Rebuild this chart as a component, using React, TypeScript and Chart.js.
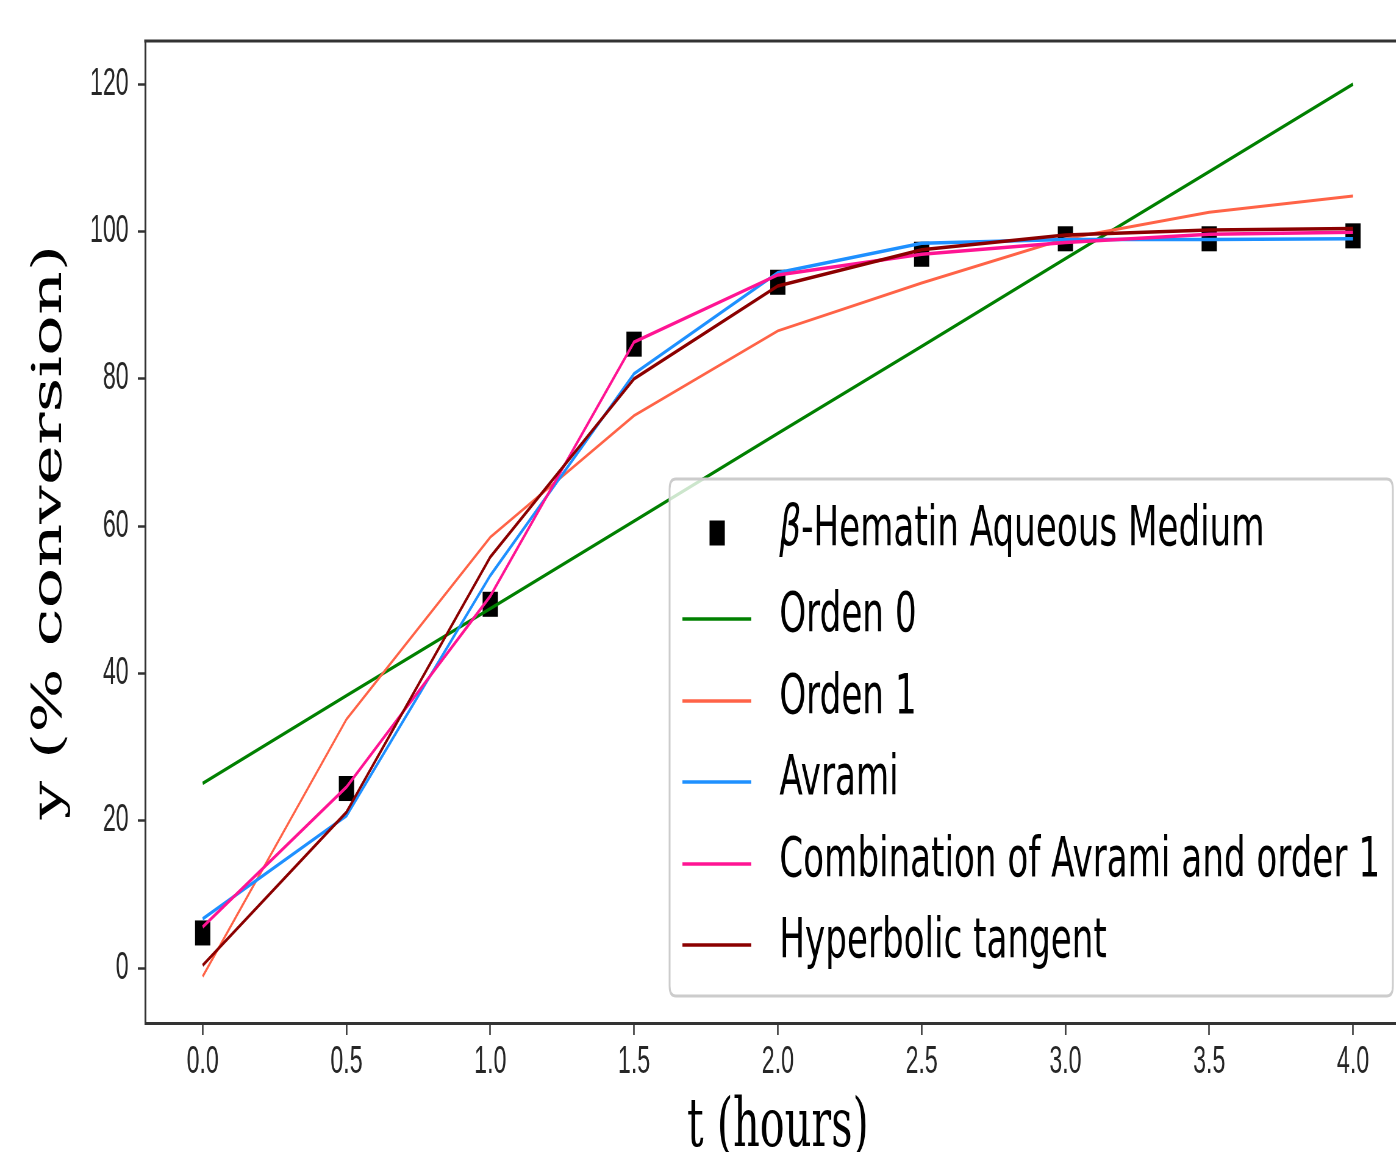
import React, { useEffect, useRef } from 'react';
import { Chart, registerables } from 'chart.js';

Chart.register(...registerables);

// ---------------- data ----------------
const tHours = [0, 0.5, 1.0, 1.5, 2.0, 2.5, 3.0, 3.5, 4.0];
const experimental = [4.8, 24.4, 49.4, 84.7, 93.1, 96.9, 99.0, 99.0, 99.4];
const orden0 = [25.1, 37.0, 48.8, 60.7, 72.6, 84.4, 96.3, 108.1, 120.0];
const orden1 = [-1.1, 33.8, 58.5, 75.0, 86.5, 93.0, 99.0, 102.6, 104.8];
const avrami = [6.7, 20.7, 53.3, 80.7, 94.4, 98.4, 98.9, 98.9, 99.0];
const combination = [5.6, 24.6, 50.5, 85.0, 94.1, 96.9, 98.5, 99.6, 99.9];
const hyperbolic = [0.4, 21.2, 55.8, 80.0, 92.6, 97.5, 99.5, 100.2, 100.4];

const xTickValues = [0, 0.5, 1.0, 1.5, 2.0, 2.5, 3.0, 3.5, 4.0];
const yTickValues = [0, 20, 40, 60, 80, 100, 120];

const seriesLabels = [
  'β-Hematin Aqueous Medium',
  'Orden 0',
  'Orden 1',
  'Avrami',
  'Combination of Avrami and order 1',
  'Hyperbolic tangent',
];
const seriesColors = ['#000000', '#008000', '#ff6347', '#1e90ff', '#ff1493', '#8b0000'];

// ---------------- layout (style only) ----------------
const SX = 0.61; // horizontal squash of the original figure
const CANVAS_W = 2340;
const CANVAS_H = 1152;

const framePlugin = {
  id: 'frame',
  afterDatasetsDraw(chart: any) {
    const { ctx, chartArea } = chart;
    ctx.save();
    ctx.strokeStyle = '#333333';
    ctx.lineWidth = 3;
    ctx.beginPath();
    ctx.moveTo(chartArea.left - 1.5, chartArea.top);
    ctx.lineTo(chartArea.right, chartArea.top);
    ctx.lineTo(chartArea.right, chartArea.bottom);
    ctx.stroke();
    ctx.restore();
  },
};

const legendPlugin = {
  id: 'boxLegend',
  afterDraw(chart: any) {
    const { ctx, chartArea } = chart;
    const right = chartArea.right - 29;
    const bottom = chartArea.bottom - 27;
    const w = 1186;
    const h = 517;
    const left = right - w;
    const top = bottom - h;
    const r = 10;
    ctx.save();
    ctx.beginPath();
    ctx.moveTo(left + r, top);
    ctx.lineTo(right - r, top);
    ctx.quadraticCurveTo(right, top, right, top + r);
    ctx.lineTo(right, bottom - r);
    ctx.quadraticCurveTo(right, bottom, right - r, bottom);
    ctx.lineTo(left + r, bottom);
    ctx.quadraticCurveTo(left, bottom, left, bottom - r);
    ctx.lineTo(left, top + r);
    ctx.quadraticCurveTo(left, top, left + r, top);
    ctx.closePath();
    ctx.fillStyle = 'rgba(255,255,255,0.8)';
    ctx.fill();
    ctx.strokeStyle = '#cccccc';
    ctx.lineWidth = 3;
    ctx.stroke();

    const rowOffsets = [54, 140, 222, 303, 385, 466];
    const order = [0, 1, 2, 3, 4, 5];
    order.forEach((dsIndex, i) => {
      const ds = chart.data.datasets[dsIndex];
      const y = top + rowOffsets[i];
      if (ds.showLine === false) {
        const s = 25;
        ctx.fillStyle = ds.backgroundColor;
        ctx.fillRect(left + 78 - s / 2, y - s / 2, s, s);
      } else {
        ctx.strokeStyle = ds.borderColor;
        ctx.lineWidth = 3.5;
        ctx.beginPath();
        ctx.moveTo(left + 21, y);
        ctx.lineTo(left + 134, y);
        ctx.stroke();
      }
      ctx.fillStyle = '#000000';
      ctx.textBaseline = 'middle';
      ctx.textAlign = 'left';
      const label: string = ds.label;
      let tx = left + 180;
      const ty = y - 3;
      if (label.startsWith('β')) {
        ctx.font = 'italic 56px "DejaVu Sans"';
        ctx.fillText('β', tx, ty);
        tx += ctx.measureText('β').width;
        ctx.font = '56px "DejaVu Sans"';
        ctx.fillText(label.slice(1), tx, ty);
      } else {
        ctx.font = '56px "DejaVu Sans"';
        ctx.fillText(label, tx, ty);
      }
    });
    ctx.restore();
  },
};

function points(values: number[]) {
  return tHours.map((t, i) => ({ x: t, y: values[i] }));
}

export default function App() {
  const canvasRef = useRef<HTMLCanvasElement | null>(null);

  useEffect(() => {
    const canvas = canvasRef.current;
    if (!canvas) return;

    const lineSet = (idx: number, values: number[], width: number, order: number) => ({
      type: 'line',
      label: seriesLabels[idx],
      data: points(values),
      borderColor: seriesColors[idx],
      backgroundColor: seriesColors[idx],
      borderWidth: width,
      pointRadius: 0,
      pointHoverRadius: 0,
      tension: 0,
      fill: false,
      order,
    });

    const tickFont = { family: '"Liberation Sans", Arial, sans-serif', size: 38 };

    const chart = new Chart(canvas, {
      type: 'line',
      data: {
        datasets: [
          {
            type: 'line',
            label: seriesLabels[0],
            data: points(experimental),
            showLine: false,
            pointStyle: 'rect',
            pointRadius: 17.7,
            pointHoverRadius: 17.7,
            pointBorderWidth: 0,
            pointBackgroundColor: seriesColors[0],
            backgroundColor: seriesColors[0],
            borderColor: seriesColors[0],
            order: 6,
          },
          lineSet(1, orden0, 3.5, 5),
          lineSet(2, orden1, 3, 4),
          lineSet(3, avrami, 3.5, 3),
          lineSet(4, combination, 3.5, 2),
          lineSet(5, hyperbolic, 3.5, 1),
        ] as any,
      },
      options: {
        animation: false,
        responsive: false,
        devicePixelRatio: 1,
        layout: { padding: { top: 41, right: CANVAS_W - 2313, bottom: 0, left: 0 } },
        plugins: {
          legend: { display: false },
          tooltip: { enabled: false },
        },
        scales: {
          x: {
            type: 'linear',
            min: -0.2,
            max: 4.2,
            afterBuildTicks: (s: any) => {
              s.ticks = xTickValues.map((v) => ({ value: v }));
            },
            afterFit: (s: any) => {
              s.height = 129;
            },
            ticks: {
              autoSkip: false,
              maxRotation: 0,
              padding: 5,
              color: '#262626',
              font: tickFont,
              callback: (v: any) => Number(v).toFixed(1),
            },
            grid: {
              drawOnChartArea: false,
              drawTicks: true,
              tickLength: 12,
              tickWidth: 2.5,
              tickColor: '#333333',
            },
            border: { display: true, color: '#333333', width: 3 },
            title: {
              display: true,
              text: 't (hours)',
              color: '#000000',
              font: { family: '"DejaVu Serif", serif', size: 68, lineHeight: 0.7 },
              padding: { top: 0, bottom: 0 },
            },
          },
          y: {
            type: 'linear',
            min: -7.42,
            max: 125.84,
            afterBuildTicks: (s: any) => {
              s.ticks = yTickValues.map((v) => ({ value: v }));
            },
            afterFit: (s: any) => {
              s.width = 238;
            },
            ticks: {
              autoSkip: false,
              padding: 15,
              color: '#262626',
              font: tickFont,
              callback: (v: any) => String(v),
            },
            grid: {
              drawOnChartArea: false,
              drawTicks: true,
              tickLength: 12,
              tickWidth: 2.5,
              tickColor: '#333333',
            },
            border: { display: true, color: '#333333', width: 3 },
            title: {
              display: true,
              text: 'y (% conversion)',
              color: '#000000',
              font: { family: '"DejaVu Serif", serif', size: 68, lineHeight: 0.85 },
              padding: { top: 53, bottom: 0 },
            },
          },
        },
      } as any,
      plugins: [framePlugin, legendPlugin],
    });

    return () => chart.destroy();
  }, []);

  return (
    <div
      style={{
        position: 'fixed',
        left: 0,
        top: 0,
        width: 1396,
        height: 1152,
        overflow: 'hidden',
        background: '#ffffff',
      }}
    >
      <canvas
        ref={canvasRef}
        width={CANVAS_W}
        height={CANVAS_H}
        style={{ width: `${CANVAS_W * SX}px`, height: `${CANVAS_H}px`, display: 'block' }}
      />
    </div>
  );
}
